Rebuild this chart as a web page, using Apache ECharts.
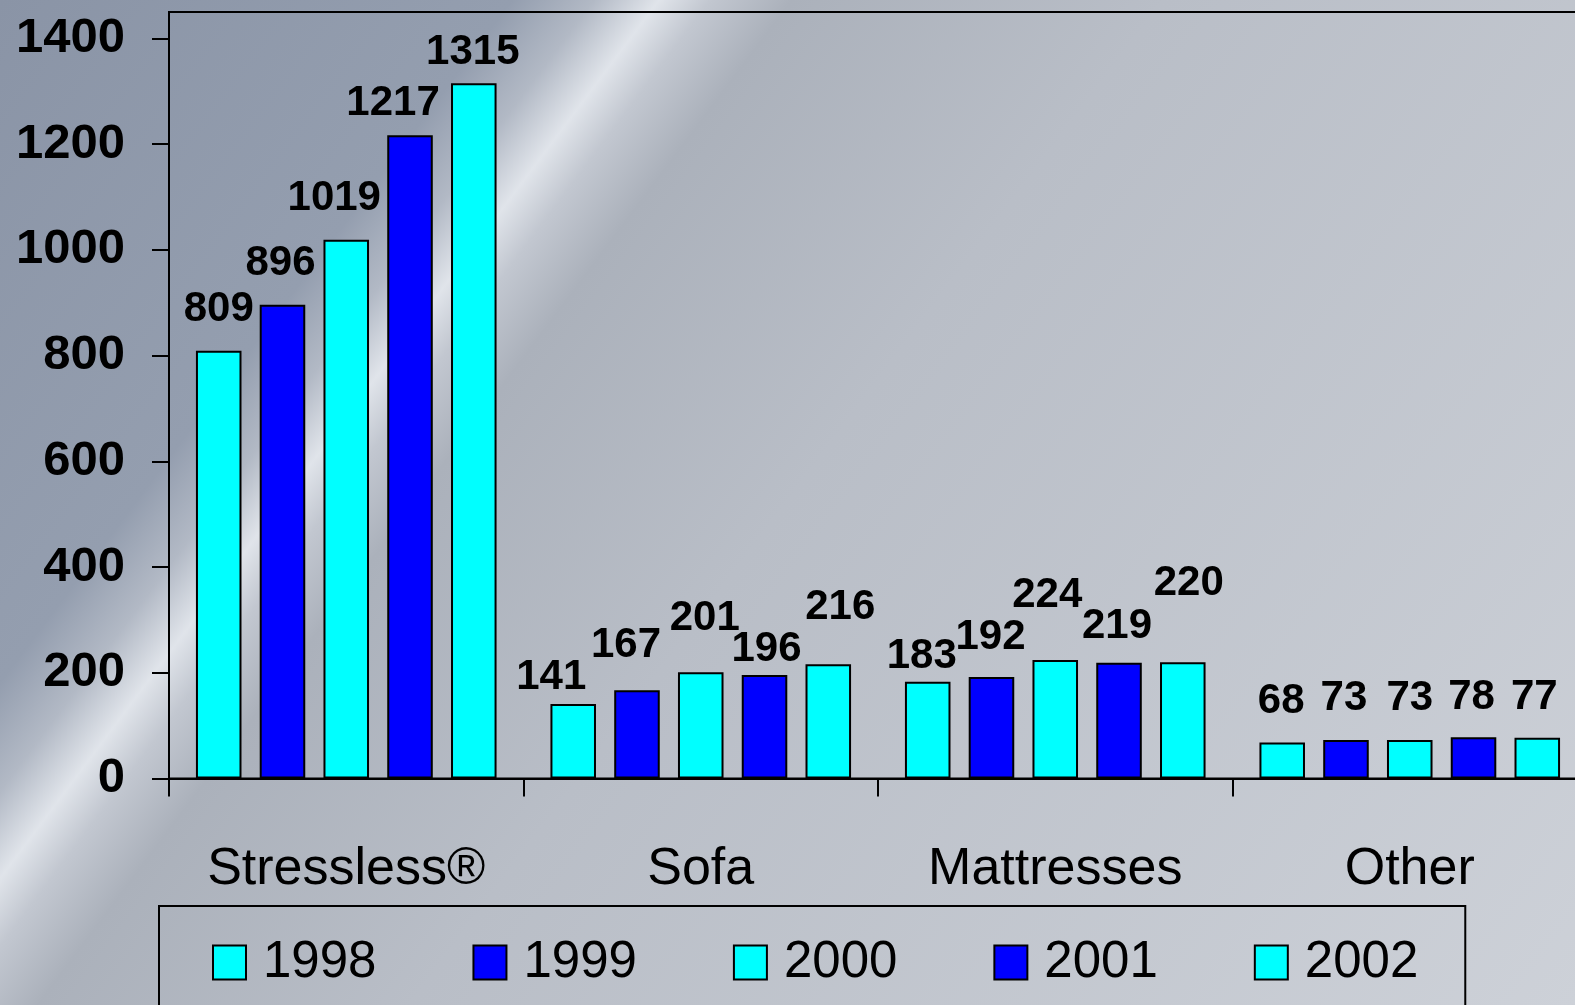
<!DOCTYPE html>
<html>
<head>
<meta charset="utf-8">
<script src="https://cdn.jsdelivr.net/npm/echarts@6/dist/echarts.min.js"></script>
<style>
html,body{margin:0;padding:0;width:1575px;height:1005px;overflow:hidden;}
#chart{width:1575px;height:1005px;}
</style>
</head>
<body>
<div id="chart"></div>
<script>
// ---- data ----
const categories = ['Stressless®', 'Sofa', 'Mattresses', 'Other'];
const years = ['1998', '1999', '2000', '2001', '2002'];
const v1998 = [809, 141, 183, 68];
const v1999 = [896, 167, 192, 73];
const v2000 = [1019, 201, 224, 73];
const v2001 = [1217, 196, 219, 78];
const v2002 = [1315, 216, 220, 77];
const yTicks = [0, 200, 400, 600, 800, 1000, 1200, 1400];

// ---- styling (label nudges in px, colours) ----
const seriesValues = [v1998, v1999, v2000, v2001, v2002];
const seriesColors = ['#00FFFF', '#0000FF', '#00FFFF', '#0000FF', '#00FFFF'];
const labelNudges = [
  [[0, 0], [-22, 14], [-6, 16], [-1, 0]],
  [[-2, 0], [-11, -4], [-1, 1], [-2, 0]],
  [[-12, 0], [4, -13], [-8, -24], [0, 0]],
  [[-17, 9], [2, 16], [-2, 5], [-2, 1]],
  [[-1, 10], [12, -16], [6, -38], [-3, 1]]
];

const FONT = '"Liberation Sans", Arial, Helvetica, sans-serif';

const chart = echarts.init(document.getElementById('chart'), null, {renderer: 'canvas'});

const series = years.map((y, si) => ({
  name: y,
  type: 'bar',
  barGap: '40%',
  barCategoryGap: '15.2%',
  itemStyle: {color: seriesColors[si], borderColor: '#000', borderWidth: 2},
  label: {
    show: true,
    position: 'top',
    distance: 20,
    fontFamily: FONT,
    fontSize: 42,
    fontWeight: 'bold',
    color: '#000'
  },
  emphasis: {disabled: true},
  data: seriesValues[si].map((v, ci) => ({
    value: v,
    label: {offset: labelNudges[si][ci]}
  }))
}));

const option = {
  animation: false,
  backgroundColor: {
    type: 'linear', global: true,
    x: 0, y: 0, x2: 1490, y2: 1118,
    colorStops: [
      {offset: 0, color: '#8a94a6'},
      {offset: 0.22, color: '#949eaf'},
      {offset: 0.255, color: '#b2b9c5'},
      {offset: 0.283, color: '#e0e4ea'},
      {offset: 0.305, color: '#c2c7d0'},
      {offset: 0.34, color: '#abb1bb'},
      {offset: 0.5, color: '#b9bec7'},
      {offset: 1, color: '#cdd1d8'}
    ]
  },
  grid: {
    left: 169, top: 12, width: 1418, height: 766.5,
    show: true, borderColor: '#000', borderWidth: 2,
    backgroundColor: 'transparent',
    containLabel: false, outerBoundsMode: 'none'
  },
  legend: {
    left: 159, top: 906,
    padding: [31, 47, 45, 53],
    borderColor: '#000', borderWidth: 2,
    itemWidth: 33, itemHeight: 34, itemGap: 96,
    icon: 'rect',
    itemStyle: {borderColor: '#000', borderWidth: 2},
    data: years,
    formatter: n => '{s|}' + n,
    textStyle: {
      fontFamily: FONT, fontSize: 51, color: '#000',
      rich: {s: {width: 12, fontSize: 51}}
    }
  },
  xAxis: {
    type: 'category',
    data: categories,
    boundaryGap: true,
    axisLine: {show: true, lineStyle: {color: '#000', width: 2}},
    axisTick: {show: true, alignWithLabel: false, length: 18, lineStyle: {color: '#000', width: 2}},
    axisLabel: {fontFamily: FONT, fontSize: 52, color: '#000', margin: 65, interval: 0},
    splitLine: {show: false}
  },
  yAxis: {
    type: 'value',
    min: 0, max: 1450,
    axisLine: {show: true, lineStyle: {color: '#000', width: 2}},
    axisTick: {show: true, length: 17, customValues: yTicks, lineStyle: {color: '#000', width: 2}},
    axisLabel: {
      customValues: yTicks,
      formatter: v => String(v),
      fontFamily: FONT, fontSize: 49, fontWeight: 'bold', color: '#000',
      margin: 44
    },
    splitLine: {show: false}
  },
  series: series
};

chart.setOption(option);
</script>
</body>
</html>
